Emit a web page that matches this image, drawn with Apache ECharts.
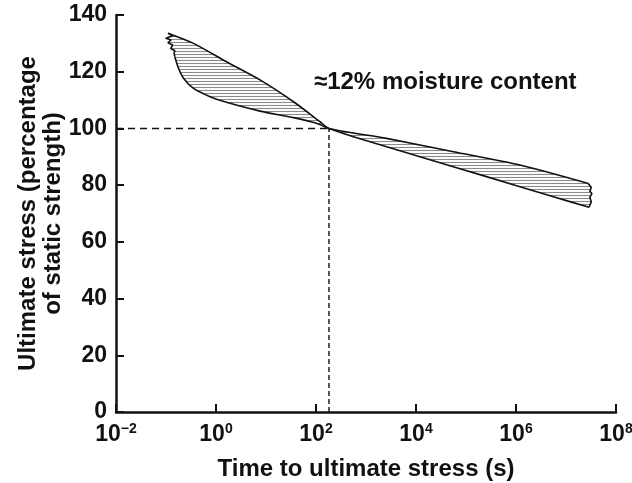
<!DOCTYPE html>
<html><head><meta charset="utf-8">
<script src="https://cdn.jsdelivr.net/npm/echarts@6/dist/echarts.min.js"></script>
<style>html,body{margin:0;padding:0;background:#fff}#c{width:632px;height:483px}</style>
</head><body><div id="c"></div>
<script>
// ---- data (time in s, stress in % of static strength) ----
const upperX = [0.11, 0.355, 1.62, 7.6, 35.5, 120, 182, 2570, 56000, 1.2e6, 2.8e7];
const upperY = [133.6, 130.0, 123.5, 117.1, 109.4, 102.4, 100, 96.5, 91.8, 87.1, 80.6];
const rightEdgeX = [2.8e7, 3.2e7, 3.0e7, 3.3e7, 3.0e7, 3.2e7, 2.9e7];
const rightEdgeY = [80.6, 79.2, 77.9, 77.0, 75.8, 74.1, 72.2];
const lowerX = [0.15, 0.178, 0.224, 0.355, 0.76, 1.62, 7.6, 35.5, 102, 182, 560, 12000, 257000, 5.6e6, 2.9e7];
const lowerY = [125.3, 121.2, 117.7, 114.1, 111.2, 109.2, 106.1, 103.8, 101.8, 100, 97.1, 90.0, 83.0, 75.9, 72.2];
const leftEdgeX = [0.11, 0.135, 0.10, 0.125, 0.11, 0.135, 0.125, 0.15, 0.145, 0.15];
const leftEdgeY = [133.6, 132.7, 131.8, 131.2, 130.2, 129.4, 128.2, 127.4, 126.5, 125.3];
const refTime = 182;      // time at 100 % static strength
const refStress = 100;
const xMin = 0.01, xMax = 1e8;
const annotation = '≈12% moisture content';

// polygon outline of the band
const polyX = upperX.concat(rightEdgeX, lowerX.slice().reverse(), leftEdgeX.slice().reverse());
const polyY = upperY.concat(rightEdgeY, lowerY.slice().reverse(), leftEdgeY.slice().reverse());

// hatch pattern
const pat = document.createElement('canvas');
pat.width = 8; pat.height = 3;
const g = pat.getContext('2d');
g.fillStyle = '#fafafa'; g.fillRect(0, 0, 8, 3);
g.fillStyle = '#8a8a8a'; g.fillRect(0, 0, 8, 1);

const FONT = "'Liberation Sans', Arial, Helvetica, sans-serif";
const chart = echarts.init(document.getElementById('c'), null, {renderer: 'canvas'});
chart.setOption({
  animation: false,
  backgroundColor: '#fff',
  title: {
    text: annotation, left: 314, top: 70, padding: 0,
    textStyle: {fontFamily: FONT, fontSize: 24, fontWeight: 'bold', color: '#111'}
  },
  grid: {left: 116, right: 16, top: 15, bottom: 71, containLabel: false, outerBoundsMode: 'none'},
  xAxis: {
    type: 'log', logBase: 10, min: xMin, max: xMax, interval: 2,
    name: 'Time to ultimate stress (s)', nameLocation: 'middle', nameGap: 45, nameMoveOverlap: false,
    nameTextStyle: {fontFamily: FONT, fontSize: 24, fontWeight: 'bold', color: '#111'},
    axisLine: {lineStyle: {color: '#111', width: 2.5}},
    axisTick: {inside: true, length: 8, lineStyle: {color: '#111', width: 2}},
    minorTick: {show: false},
    splitLine: {show: false},
    axisLabel: {
      margin: 10, color: '#111',
      formatter: function (v) {
        const e = Math.round(Math.log10(v));
        return '{b|10}{s|' + (e < 0 ? '\u2212' + (-e) : e) + '}';
      },
      rich: {
        b: {fontFamily: FONT, fontSize: 23, fontWeight: 'bold', color: '#111', lineHeight: 24, verticalAlign: 'bottom'},
        s: {fontFamily: FONT, fontSize: 14, fontWeight: 'bold', color: '#111', lineHeight: 14, verticalAlign: 'top'}
      }
    }
  },
  yAxis: {
    type: 'value', min: 0, max: 140, interval: 20,
    name: 'Ultimate stress (percentage\nof static strength)', nameLocation: 'middle', nameGap: 50, nameRotate: 90,
    nameMoveOverlap: false,
    nameTextStyle: {fontFamily: FONT, fontSize: 24, fontWeight: 'bold', color: '#111', lineHeight: 25},
    axisLine: {show: true, lineStyle: {color: '#111', width: 2.5}},
    axisTick: {show: true, inside: true, length: 8, lineStyle: {color: '#111', width: 2}},
    splitLine: {show: false},
    axisLabel: {margin: 9, color: '#111', fontFamily: FONT, fontSize: 23, fontWeight: 'bold'}
  },
  series: [
    {
      type: 'line', data: [[xMin, refStress], [refTime, refStress]], symbol: 'none', silent: true,
      lineStyle: {color: '#111', width: 1.4, type: [7, 5]}, z: 2
    },
    {
      type: 'line', data: [[refTime, 0], [refTime, refStress]], symbol: 'none', silent: true,
      lineStyle: {color: '#111', width: 1.4, type: [5, 3]}, z: 2
    },
    {
      type: 'custom', data: [[refTime, refStress]], silent: true, z: 3,
      renderItem: function (params, api) {
        const map = function (xs, ys) { return xs.map(function (x, i) { return api.coord([x, ys[i]]); }); };
        const line = function (pts, smooth) {
          return {type: 'polyline', shape: {points: pts, smooth: smooth},
                  style: {fill: null, stroke: '#111', lineWidth: 1.6, lineJoin: 'round'}};
        };
        return {
          type: 'group',
          children: [
            {type: 'polygon', shape: {points: map(polyX, polyY)},
             style: {fill: {image: pat, repeat: 'repeat'}, stroke: null}},
            line(map(upperX, upperY), 0.25),
            line(map(lowerX, lowerY), 0.25),
            line(map(leftEdgeX, leftEdgeY), 0),
            line(map(rightEdgeX, rightEdgeY), 0)
          ]
        };
      }
    }
  ]
});
</script></body></html>
